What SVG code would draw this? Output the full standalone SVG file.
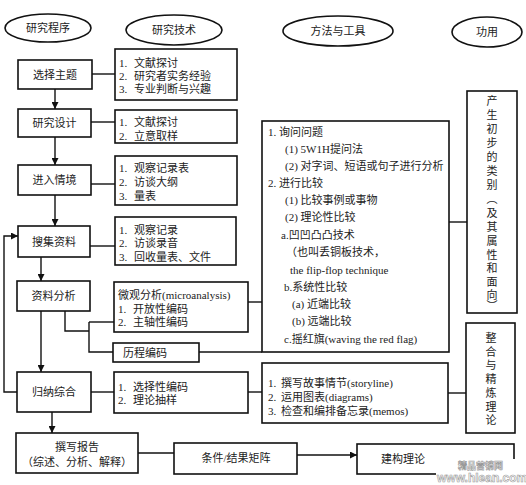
<svg xmlns="http://www.w3.org/2000/svg" width="526" height="485" viewBox="0 0 526 485">
<defs>
<marker id="arr" viewBox="0 0 10 10" refX="10" refY="5" markerWidth="7" markerHeight="7" markerUnits="userSpaceOnUse" orient="auto">
<path d="M0,0 L10,5 L0,10 z" fill="#111"/>
</marker>
</defs>
<style>
rect, ellipse { fill: #fff; stroke: #111; stroke-width: 1.6; }
.c { fill: none; stroke: #111; stroke-width: 1.4; }
text { font-family: "Liberation Serif", "Noto Sans CJK SC", serif; font-size: 11px; fill: #222; dominant-baseline: central; }
.m { text-anchor: middle; }
.v { text-anchor: middle; font-size: 11px; }
.wm { font-family: "Liberation Sans", "Noto Sans CJK SC", sans-serif; fill: #fff; stroke: #999; stroke-width: 0.6; font-weight: bold; }
</style>
<rect x="0" y="0" width="526" height="485" style="fill:#fff;stroke:none"/>

<g id="connectors">
<path class="c" d="M55,89 V109" marker-end="url(#arr)"/>
<path class="c" d="M55,137 V165" marker-end="url(#arr)"/>
<path class="c" d="M55,195 V226" marker-end="url(#arr)"/>
<path class="c" d="M41,257 V281" marker-end="url(#arr)"/>
<path class="c" d="M41,311 V372" marker-end="url(#arr)"/>
<path class="c" d="M52,412 V433" marker-end="url(#arr)"/>
<path class="c" d="M17,392 H4 V236 H18" marker-end="url(#arr)"/>
<path class="c" d="M92,74 H115"/>
<path class="c" d="M91,122 H115"/>
<path class="c" d="M91,184 H115"/>
<path class="c" d="M90,246 H115"/>
<path class="c" d="M65,311 V331 H89"/>
<path class="c" d="M89,322 V352 H113"/>
<path class="c" d="M89,322 H114"/>
<path class="c" d="M248,302 H262"/>
<path class="c" d="M199,352 H262"/>
<path class="c" d="M91,392 H114"/>
<path class="c" d="M248,392 H262"/>
<path class="c" d="M449,222 H467"/>
<path class="c" d="M448,393 H466"/>
<path class="c" d="M138,453 H174"/>
<path class="c" d="M297,455 H357" marker-end="url(#arr)"/>
</g>

<g id="h-program"><ellipse cx="48" cy="28" rx="43" ry="14"/><text class="m" x="48" y="28">研究程序</text></g>
<g id="h-tech"><ellipse cx="174" cy="30" rx="48" ry="15"/><text class="m" x="174" y="30">研究技术</text></g>
<g id="h-method"><ellipse cx="338" cy="31" rx="55" ry="15"/><text class="m" x="338" y="31">方法与工具</text></g>
<g id="h-use"><ellipse cx="487" cy="32" rx="35" ry="15"/><text class="m" x="487" y="32">功用</text></g>

<g id="n-topic"><rect x="18" y="60" width="74" height="29"/><text class="m" x="55" y="74.5">选择主题</text></g>
<g id="n-design"><rect x="18" y="109" width="73" height="28"/><text class="m" x="54.5" y="123">研究设计</text></g>
<g id="n-enter"><rect x="18" y="165" width="73" height="30"/><text class="m" x="54.5" y="180">进入情境</text></g>
<g id="n-collect"><rect x="18" y="226" width="72" height="31"/><text class="m" x="54" y="241.5">搜集资料</text></g>
<g id="n-analysis"><rect x="17" y="281" width="73" height="30"/><text class="m" x="53.5" y="296">资料分析</text></g>
<g id="n-induce"><rect x="17" y="372" width="74" height="40"/><text class="m" x="54" y="392">归纳综合</text></g>
<g id="n-report"><rect x="16" y="433" width="122" height="40"/><text class="m" x="77" y="447">撰写报告</text><text class="m" x="77" y="462">（综述、分析、解释）</text></g>

<g id="t-topic"><rect x="115" y="49" width="122" height="51"/>
<text x="119" y="63">1.<tspan x="134">文献探讨</tspan></text><text x="119" y="76">2.<tspan x="134">研究者实务经验</tspan></text><text x="119" y="89">3.<tspan x="134">专业判断与兴趣</tspan></text></g>
<g id="t-design"><rect x="115" y="110" width="122" height="33"/>
<text x="119" y="122">1.<tspan x="134">文献探讨</tspan></text><text x="119" y="136">2.<tspan x="134">立意取样</tspan></text></g>
<g id="t-enter"><rect x="115" y="156" width="122" height="49"/>
<text x="119" y="168">1.<tspan x="134">观察记录表</tspan></text><text x="119" y="182">2.<tspan x="134">访谈大纲</tspan></text><text x="119" y="196">3.<tspan x="134">量表</tspan></text></g>
<g id="t-collect"><rect x="115" y="217" width="121" height="48"/>
<text x="119" y="230">1.<tspan x="134">观察记录</tspan></text><text x="119" y="243">2.<tspan x="134">访谈录音</tspan></text><text x="119" y="257">3.<tspan x="134">回收量表、文件</tspan></text></g>
<g id="t-micro"><rect x="114" y="282" width="134" height="50"/>
<text x="118" y="295">微观分析(microanalysis)</text><text x="118" y="308.5">1.<tspan x="133">开放性编码</tspan></text><text x="118" y="322">2.<tspan x="133">主轴性编码</tspan></text></g>
<g id="t-process"><rect x="113" y="343" width="86" height="19"/><text x="123" y="352.5">历程编码</text></g>
<g id="t-select"><rect x="114" y="372" width="134" height="41"/>
<text x="118" y="387">1.<tspan x="133">选择性编码</tspan></text><text x="118" y="400">2.<tspan x="133">理论抽样</tspan></text></g>

<g id="m-compare"><rect x="262" y="121" width="187" height="231"/>
<text x="268" y="132">1.<tspan x="279">询问问题</tspan></text>
<text x="285" y="149">(1) 5W1H提问法</text>
<text x="285" y="166">(2) 对字词、短语或句子进行分析</text>
<text x="268" y="183">2.<tspan x="279">进行比较</tspan></text>
<text x="285" y="200">(1) 比较事例或事物</text>
<text x="285" y="217">(2) 理论性比较</text>
<text x="281" y="235">a.凹凹凸凸技术</text>
<text x="286" y="252">（也叫丢铜板技术，</text>
<text x="290" y="270">the flip-flop technique</text>
<text x="284" y="287">b.系统性比较</text>
<text x="292" y="304">(a) 近端比较</text>
<text x="292" y="321">(b) 远端比较</text>
<text x="284" y="339">c.摇红旗(waving the red flag)</text>
</g>
<g id="m-story"><rect x="262" y="363" width="186" height="60"/>
<text x="268" y="383">1.<tspan x="281">撰写故事情节(storyline)</tspan></text>
<text x="268" y="397">2.<tspan x="281">运用图表(diagrams)</tspan></text>
<text x="268" y="411">3.<tspan x="281">检查和编排备忘录(memos)</tspan></text>
</g>

<g id="u-category"><rect x="467" y="91" width="50" height="222"/>
<text class="v" x="492" y="101">产</text><text class="v" x="492" y="115">生</text><text class="v" x="492" y="129">初</text><text class="v" x="492" y="143">步</text><text class="v" x="492" y="157">的</text><text class="v" x="492" y="171">类</text><text class="v" x="492" y="185">别</text><text class="v" x="492" y="199">︵</text><text class="v" x="492" y="213">及</text><text class="v" x="492" y="227">其</text><text class="v" x="492" y="241">属</text><text class="v" x="492" y="255">性</text><text class="v" x="492" y="268">和</text><text class="v" x="492" y="282">面</text><text class="v" x="492" y="295">向</text><text class="v" x="492" y="306">︶</text>
</g>
<g id="u-integrate"><rect x="466" y="323" width="49" height="110"/>
<text class="v" x="491" y="338">整</text><text class="v" x="491" y="352">合</text><text class="v" x="491" y="365">与</text><text class="v" x="491" y="379">精</text><text class="v" x="491" y="393">炼</text><text class="v" x="491" y="407">理</text><text class="v" x="491" y="420">论</text>
</g>

<g id="n-matrix"><rect x="174" y="443" width="123" height="31"/><text class="m" x="236" y="458">条件/结果矩阵</text></g>
<g id="n-theory"><rect x="357" y="444" width="157" height="30"/><text class="m" x="403" y="459">建构理论</text></g>

<rect x="436" y="459" width="90" height="26" style="fill:#fff;stroke:none"/>
<text class="wm" x="458" y="466" style="font-size:9px">精品营销网</text>
<text class="wm" x="437" y="478" style="font-size:12px">www.hlean.com</text>
</svg>
